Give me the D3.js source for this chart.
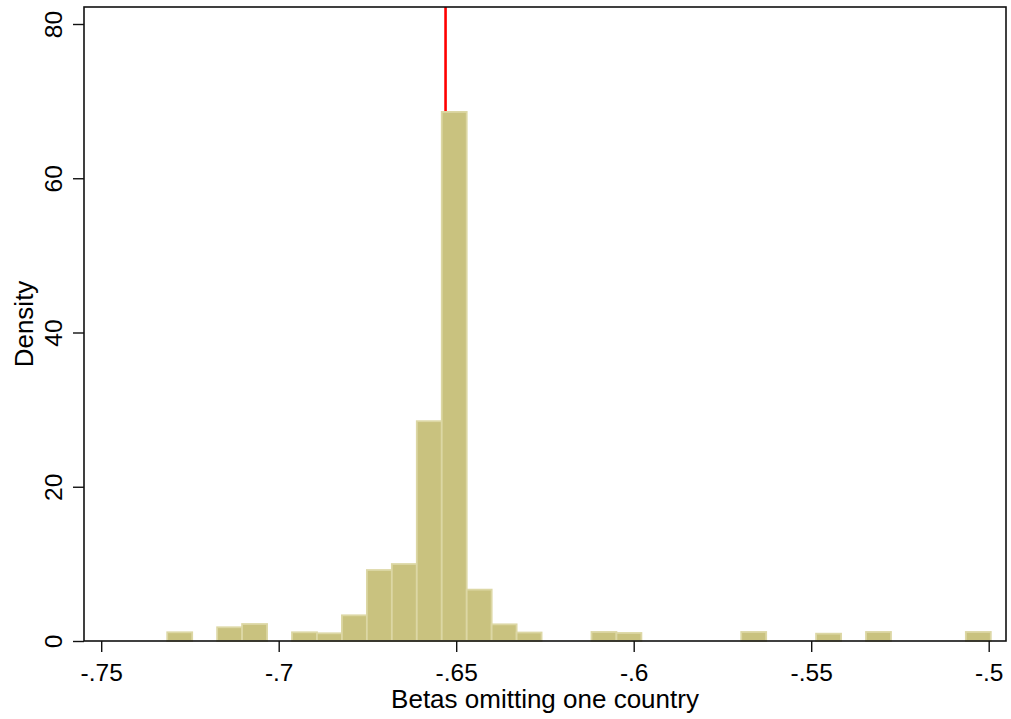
<!DOCTYPE html>
<html>
<head>
<meta charset="utf-8">
<script src="https://cdn.jsdelivr.net/npm/d3@7"></script>
<style>
  body { margin: 0; background: #fff; }
  svg { display: block; }
  text { font-family: "Liberation Sans", Arial, Helvetica, sans-serif; fill: #000; }
</style>
</head>
<body>
<div id="chart"></div>
<script>
// histogram of betas, 33 equal bins
const binStart = -0.7314;
const binWidth = 0.00703;
const densities = [1.13, 0, 1.78, 2.2, 0, 1.13, 1.0, 3.33, 9.2, 9.98, 28.5, 68.6, 6.66, 2.16, 1.1,
                   0, 0, 1.17, 1.04, 0, 0, 0, 0, 1.17, 0, 0, 0.95, 0, 1.17, 0, 0, 0, 1.17];
const xTicks = [-0.75, -0.7, -0.65, -0.6, -0.55, -0.5];
const yTicks = [0, 20, 40, 60, 80];
const refLine = -0.653;
const xTitle = "Betas omitting one country";
const yTitle = "Density";

const width = 1011, height = 719;
// plot region box
const box = {left: 84, right: 1006, top: 7, bottom: 641};

const x = d3.scaleLinear().domain([-0.75, -0.5]).range([101.2, 988.7]);
const y = d3.scaleLinear().domain([0, 80]).range([641, 24]);

const bins = densities.map((d, i) => ({x0: binStart + i * binWidth, x1: binStart + (i + 1) * binWidth, v: d}))
  .filter(b => b.v > 0);

const svg = d3.select("#chart").append("svg")
    .attr("width", width)
    .attr("height", height);

svg.append("rect").attr("width", width).attr("height", height).attr("fill", "#fff");

// red reference line, drawn under the bars
svg.append("line")
    .attr("x1", x(refLine)).attr("x2", x(refLine))
    .attr("y1", box.top).attr("y2", box.bottom)
    .attr("stroke", "#ff0000")
    .attr("stroke-width", 2.6);

svg.append("g").selectAll("rect")
  .data(bins)
  .join("rect")
    .attr("x", d => x(d.x0))
    .attr("y", d => y(d.v))
    .attr("width", d => x(d.x1) - x(d.x0))
    .attr("height", d => y(0) - y(d.v))
    .attr("fill", "#c9c27f")
    .attr("stroke", "#dcd7a4")
    .attr("stroke-width", 1.8);

// frame
svg.append("rect")
    .attr("x", box.left).attr("y", box.top)
    .attr("width", box.right - box.left).attr("height", box.bottom - box.top)
    .attr("fill", "none")
    .attr("stroke", "#111")
    .attr("stroke-width", 1.6);

// stata style: -.75 (plain hyphen, no leading zero)
const fmt = d => String(d).replace("0.", ".");

const gx = svg.append("g")
    .attr("transform", `translate(0,${box.bottom})`)
    .call(d3.axisBottom(x).tickValues(xTicks).tickSize(11).tickFormat(fmt));
gx.select(".domain").remove();
gx.selectAll(".tick line").attr("stroke", "#111").attr("stroke-width", 1.4);
gx.selectAll(".tick text")
    .attr("y", 40).attr("dy", 0)
    .attr("font-size", 24.5)
    .attr("font-family", "Liberation Sans, Arial, sans-serif");

const gy = svg.append("g")
    .attr("transform", `translate(${box.left},0)`)
    .call(d3.axisLeft(y).tickValues(yTicks).tickSize(11));
gy.select(".domain").remove();
gy.selectAll(".tick line").attr("stroke", "#111").attr("stroke-width", 1.4);
gy.selectAll(".tick text")
    .attr("x", 0).attr("dy", 0)
    .attr("text-anchor", "middle")
    .attr("transform", "translate(-22.3,0) rotate(-90)")
    .attr("font-size", 24.5)
    .attr("font-family", "Liberation Sans, Arial, sans-serif");

svg.append("text")
    .attr("x", (box.left + box.right) / 2)
    .attr("y", 708)
    .attr("text-anchor", "middle")
    .attr("font-size", 26)
    .text(xTitle);

svg.append("text")
    .attr("transform", `translate(33,${(box.top + box.bottom) / 2}) rotate(-90)`)
    .attr("text-anchor", "middle")
    .attr("font-size", 26)
    .text(yTitle);
</script>
</body>
</html>
